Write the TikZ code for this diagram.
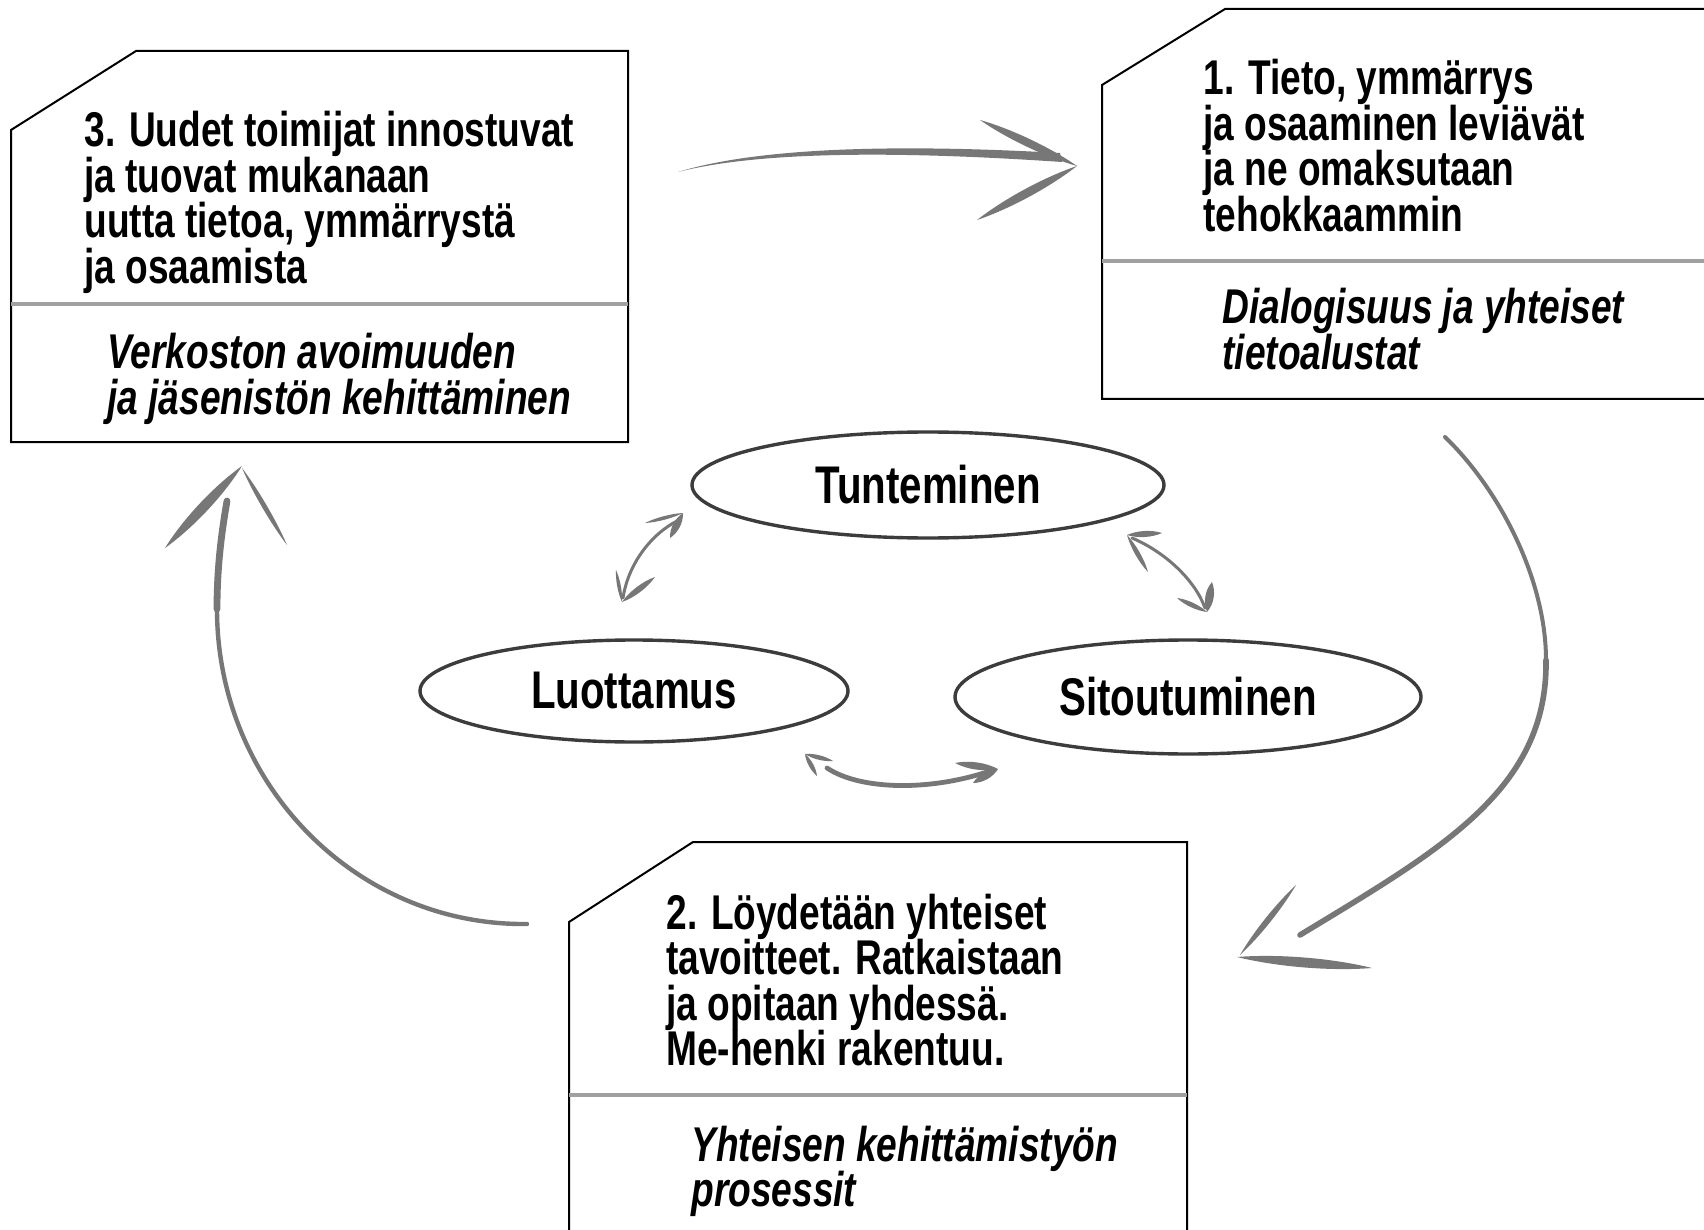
\documentclass[tikz,border=0pt]{standalone}
\usepackage{fontspec}
\setmainfont{Liberation Sans}[FakeStretch=0.76]
\usetikzlibrary{calc,shapes.geometric}
\definecolor{arrowgray}{HTML}{777777}
\definecolor{ellgray}{HTML}{3C3C3C}
\definecolor{divgray}{HTML}{A0A0A0}
\newcommand\brushstroke[3]{%
  \fill[arrowgray] (#1) .. controls ($(#1)!0.3!(#2)!#3!90:(#2)$) and ($(#1)!0.7!(#2)!#3!90:(#2)$) .. (#2)
   .. controls ($(#1)!0.7!(#2)!#3!-90:(#2)$) and ($(#1)!0.3!(#2)!#3!-90:(#2)$) .. (#1) -- cycle;}
\newcommand\txtblk[1]{\vtop{\halign{##\hfil\cr#1\crcr}}}
\tikzset{
  boxline/.style={draw=black, line width=1pt, line join=miter},
  divider/.style={draw=divgray, line width=1.6pt},
  maintxt/.style={anchor=base west, inner sep=0pt, font=\bfseries\fontsize{24.4pt}{22.75pt}\selectfont},
  ittxt/.style={anchor=base west, inner sep=0pt, font=\bfseries\itshape\fontsize{24.4pt}{22.8pt}\selectfont},
  ell/.style={ellipse, draw=ellgray, line width=1.7pt, inner sep=0pt, font=\bfseries\fontsize{26.5pt}{30pt}\selectfont},
  bigshaft/.style={draw=arrowgray, line cap=round},
  smallshaft/.style={draw=arrowgray, line width=1.5pt, line cap=round},
}
\begin{document}
\begin{tikzpicture}[x=0.5pt,y=-0.5pt]
\useasboundingbox (0,0) rectangle (1704,1230);
\clip (0,0) rectangle (1704,1230);
\fill[white] (0,0) rectangle (1704,1230);

% ---------- box 3 (top left)
\draw[boxline] (11,130) coordinate (b3c) -- (136,51) -- (628,51) -- (628,442) -- (11,442) -- cycle;
\draw[divider] (11,304) coordinate (b3dl) -- (628,304) coordinate (b3dr);
\node[maintxt] (t3) at (84,147) {\txtblk{3. Uudet toimijat innostuvat\cr ja tuovat mukanaan\cr uutta tietoa, ymmärrystä\cr ja osaamista}};
\node[ittxt] (i3) at (107,369) {\txtblk{Verkoston avoimuuden\cr ja jäsenistön kehittäminen}};

% ---------- box 1 (top right)
\draw[boxline] (1102,85) coordinate (b1c) -- (1225,9) -- (1720,9) -- (1720,399) -- (1102,399) -- cycle;
\draw[divider] (1102,261) coordinate (b1dl) -- (1720,261) coordinate (b1dr);
\node[maintxt] (t1) at (1203,95) {\txtblk{1. Tieto, ymmärrys\cr ja osaaminen leviävät\cr ja ne omaksutaan\cr tehokkaammin}};
\node[ittxt] (i1) at (1222,324) {\txtblk{Dialogisuus ja yhteiset\cr tietoalustat}};

% ---------- box 2 (bottom)
\draw[boxline] (569,922) coordinate (b2c) -- (693,842) -- (1187,842) -- (1187,1240) -- (569,1240) -- cycle;
\draw[divider] (569,1095) coordinate (b2dl) -- (1187,1095) coordinate (b2dr);
\node[maintxt] (t2) at (666,929) {\txtblk{2. Löydetään yhteiset\cr tavoitteet. Ratkaistaan\cr ja opitaan yhdessä.\cr Me-henki rakentuu.}};
\node[ittxt] (i2) at (691,1161) {\txtblk{Yhteisen kehittämistyön\cr prosessit}};

% ---------- ellipses
\node[ell, minimum width=236pt, minimum height=53pt] (tun) at (928,485) {Tunteminen};
\node[ell, minimum width=214pt, minimum height=51pt] (luo) at (634,691) {Luottamus};
\node[ell, minimum width=233pt, minimum height=57pt] (sit) at (1188,697) {Sitoutuminen};

% ---------- big arrow 3 -> 1 (top)
\coordinate (s1) at (678,172);
\coordinate (h1) at (1077,166);
\fill[arrowgray] (s1) .. controls (760,147) and (900,144) .. (1060,153) -- (1062,162)
   .. controls (900,151) and (760,151) .. (s1) -- cycle;
\brushstroke{980,120}{h1}{2.7pt}
\brushstroke{977,220}{h1}{2.9pt}

% ---------- big arrow 1 -> 2 (right)
\coordinate (s2) at (1445,437);
\coordinate (m2) at (1546,660);
\coordinate (e2) at (1300,935);
\coordinate (h2) at (1237,957);
\draw[bigshaft, line width=2pt] (s2) .. controls (1500,490) and (1546,580) .. (m2);
\draw[bigshaft, line width=2.8pt] (m2) .. controls (1548,790) and (1440,850) .. (e2);
\brushstroke{1296,885}{1240,955}{2pt}
\brushstroke{h2}{1372,968}{3.3pt}

% ---------- big arrow 2 -> 3 (left)
\coordinate (s3) at (527,924);
\coordinate (m3b) at (217,609);
\coordinate (e3) at (227,501);
\coordinate (h3) at (242,466);
\draw[bigshaft, line width=2.2pt] (s3) .. controls (356,926) and (217,784) .. (m3b);
\draw[bigshaft, line width=3.4pt] (m3b) .. controls (217,565) and (222,530) .. (e3);
\brushstroke{165,548}{h3}{3.4pt}
\brushstroke{242,468}{287,545}{1.6pt}

% ---------- small arrow Tunteminen <-> Luottamus
\coordinate (a1t) at (683,513);
\coordinate (a1b) at (622,602);
\draw[smallshaft] (677,521) .. controls (650,535) and (628,565) .. (623,598);
\brushstroke{645,523}{a1t}{1.2pt}
\brushstroke{a1t}{670,538}{2.4pt}
\brushstroke{616,570}{a1b}{1.2pt}
\brushstroke{655,577}{a1b}{2pt}

% ---------- small arrow Tunteminen <-> Sitoutuminen
\coordinate (a2t) at (1127,535);
\coordinate (a2b) at (1207,612);
\draw[smallshaft] (1132,538) .. controls (1165,552) and (1195,580) .. (1205,608);
\brushstroke{a2t}{1162,533}{2pt}
\brushstroke{a2t}{1148,572}{1.6pt}
\brushstroke{1212,582}{a2b}{2.8pt}
\brushstroke{1177,598}{a2b}{1.6pt}

% ---------- small arrow Luottamus <-> Sitoutuminen
\coordinate (a3l) at (805,754);
\coordinate (a3r) at (998,769);
\draw[smallshaft, line width=2.4pt] (827,768) .. controls (860,790) and (930,792) .. (993,770);
\brushstroke{a3l}{833,761}{1.5pt}
\brushstroke{a3l}{817,776}{1.5pt}
\brushstroke{955,763}{a3r}{2.4pt}
\brushstroke{973,783}{a3r}{2.4pt}
\end{tikzpicture}
\end{document}
